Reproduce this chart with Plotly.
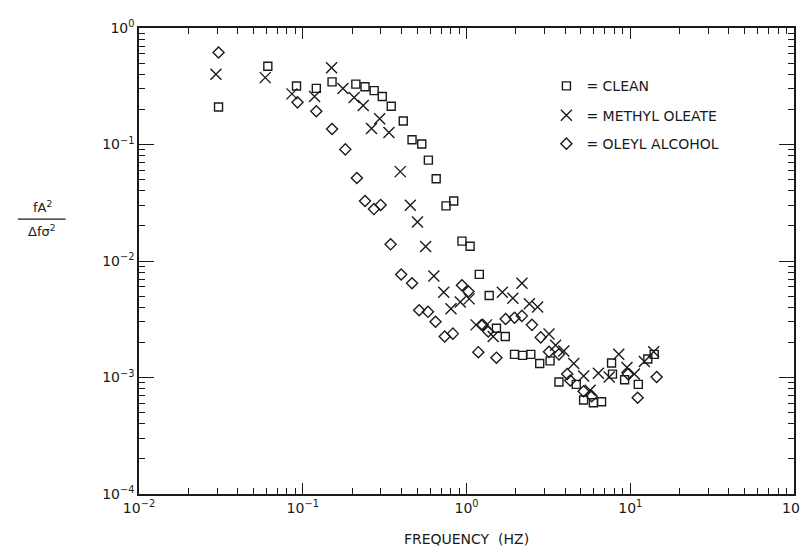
import plotly.graph_objects as go

# ---- data (frequency in Hz, normalized spectrum fA^2/(Δf σ^2)) ----
clean_f = [0.0306, 0.0612, 0.0916, 0.121, 0.151, 0.211, 0.240, 0.273, 0.306, 0.347,
           0.411, 0.465, 0.533, 0.585, 0.653, 0.750, 0.835, 0.938, 1.052, 1.197,
           1.376, 1.523, 1.725, 1.965, 2.20, 2.47, 2.80, 3.24, 3.67, 4.68,
           5.19, 5.96, 6.68, 7.69, 7.79, 9.24, 11.2, 12.8, 14.0]
clean_v = [0.210, 0.470, 0.318, 0.303, 0.345, 0.330, 0.313, 0.290, 0.258, 0.213,
           0.159, 0.110, 0.101, 0.0734, 0.0508, 0.0297, 0.0327, 0.0148, 0.0134, 0.00767,
           0.00505, 0.00265, 0.00225, 0.00158, 0.00155, 0.00158, 0.00132, 0.00139, 0.000914, 0.000873,
           0.000641, 0.000608, 0.000620, 0.00133, 0.00107, 0.000957, 0.000873, 0.00144, 0.00158]

methyl_f = [0.0295, 0.0590, 0.0859, 0.118, 0.150, 0.176, 0.206, 0.234, 0.263, 0.295,
            0.336, 0.394, 0.454, 0.502, 0.563, 0.632, 0.726, 0.804, 0.916, 1.038,
            1.143, 1.325, 1.455, 1.655, 1.919, 2.18, 2.42, 2.72, 3.19, 3.50,
            3.93, 4.52, 5.19, 5.69, 6.39, 7.44, 8.51, 9.55, 10.6, 12.2, 13.9]
methyl_v = [0.400, 0.375, 0.272, 0.258, 0.455, 0.303, 0.253, 0.216, 0.137, 0.166,
            0.127, 0.0585, 0.0301, 0.0216, 0.0133, 0.00743, 0.00538, 0.00390, 0.00444, 0.00473,
            0.00283, 0.00283, 0.00225, 0.00538, 0.00480, 0.00645, 0.00429, 0.00403, 0.00236, 0.00189,
            0.00169, 0.00132, 0.00103, 0.000778, 0.00109, 0.00101, 0.00158, 0.00122, 0.00107, 0.00137, 0.00166]

oleyl_f = [0.0306, 0.0929, 0.121, 0.151, 0.182, 0.214, 0.240, 0.272, 0.299, 0.344,
           0.399, 0.465, 0.514, 0.582, 0.647, 0.736, 0.826, 0.938, 1.028, 1.181,
           1.254, 1.357, 1.523, 1.734, 1.965, 2.18, 2.51, 2.84, 3.19, 3.67,
           4.12, 4.30, 5.19, 5.82, 9.68, 11.1, 14.5]
oleyl_v = [0.616, 0.230, 0.193, 0.136, 0.0908, 0.0515, 0.0327, 0.0279, 0.0303, 0.0139,
           0.00767, 0.00645, 0.00378, 0.00366, 0.00301, 0.00225, 0.00238, 0.00620, 0.00548, 0.00165,
           0.00283, 0.00248, 0.00148, 0.00318, 0.00326, 0.00338, 0.00283, 0.00221, 0.00166, 0.00158,
           0.00107, 0.000944, 0.000762, 0.000692, 0.00107, 0.00067, 0.00101]

x_tickvals = [0.01, 0.1, 1, 10, 100]
x_ticktext = ["10<sup>−2</sup>", "10<sup>−1</sup>", "10<sup>0</sup>", "10<sup>1</sup>", "10<sup>2</sup>"]
y_tickvals = [1e-4, 1e-3, 1e-2, 1e-1, 1]
y_ticktext = ["10<sup>−4</sup>", "10<sup>−3</sup>", "10<sup>−2</sup>", "10<sup>−1</sup>", "10<sup>0</sup>"]

INK = "#1a1a1a"
FONT = "DejaVu Sans"

fig = go.Figure()
fig.add_trace(go.Scatter(
    x=clean_f, y=clean_v, mode="markers", name="= CLEAN", legend="legend",
    marker=dict(symbol="square-open", size=8, color=INK, line=dict(width=1.4, color=INK))))
fig.add_trace(go.Scatter(
    x=methyl_f, y=methyl_v, mode="markers", name="= METHYL OLEATE", legend="legend2",
    marker=dict(symbol="x-thin-open", size=11, color=INK, line=dict(width=1.4, color=INK))))
fig.add_trace(go.Scatter(
    x=oleyl_f, y=oleyl_v, mode="markers", name="= OLEYL ALCOHOL", legend="legend3",
    marker=dict(symbol="diamond-open", size=8.5, color=INK, line=dict(width=1.4, color=INK))))

axis_common = dict(
    type="log", showgrid=False, zeroline=False, showline=True, linecolor=INK, linewidth=1.5,
    ticks="inside", tickwidth=1.3, tickcolor=INK, mirror="ticks",
    minor=dict(ticks="inside", ticklen=6, tickwidth=1.2, tickcolor=INK, dtick="D1", showgrid=False),
    tickfont=dict(family=FONT, size=14, color=INK),
)

fig.update_xaxes(range=[-2, 2], tickvals=x_tickvals, ticktext=x_ticktext, ticklen=11, **axis_common)
fig.update_yaxes(range=[-4, 0], tickvals=y_tickvals, ticktext=y_ticktext, ticklen=15, **axis_common)

leg_common = dict(font=dict(family=FONT, size=14, color=INK), bgcolor="rgba(0,0,0,0)",
                  borderwidth=0, xanchor="left", yanchor="middle", itemsizing="trace")
fig.update_layout(
    width=808, height=552,
    margin=dict(l=131, r=18, t=10, b=66),
    paper_bgcolor="white", plot_bgcolor="white",
    font=dict(family=FONT, color=INK),
    showlegend=True,
    legend=dict(x=0.622, y=0.875, **leg_common),
    legend2=dict(x=0.622, y=0.812, **leg_common),
    legend3=dict(x=0.622, y=0.751, **leg_common),
    xaxis_title=dict(text="FREQUENCY  (HZ)", font=dict(family=FONT, size=14, color=INK), standoff=20),
)

# y-axis title as a stacked fraction
fig.add_annotation(text="fA<sup>2</sup>", xref="paper", yref="paper", x=-0.148, y=0.595,
                   showarrow=False, font=dict(family=FONT, size=13, color=INK), xanchor="center", yanchor="bottom")
fig.add_annotation(text="Δfσ<sup>2</sup>", xref="paper", yref="paper", x=-0.148, y=0.585,
                   showarrow=False, font=dict(family=FONT, size=13, color=INK), xanchor="center", yanchor="top")
fig.add_shape(type="line", xref="paper", yref="paper", x0=-0.185, x1=-0.112, y0=0.59, y1=0.59,
              line=dict(color=INK, width=1.2))

fig.write_html("out.html")
